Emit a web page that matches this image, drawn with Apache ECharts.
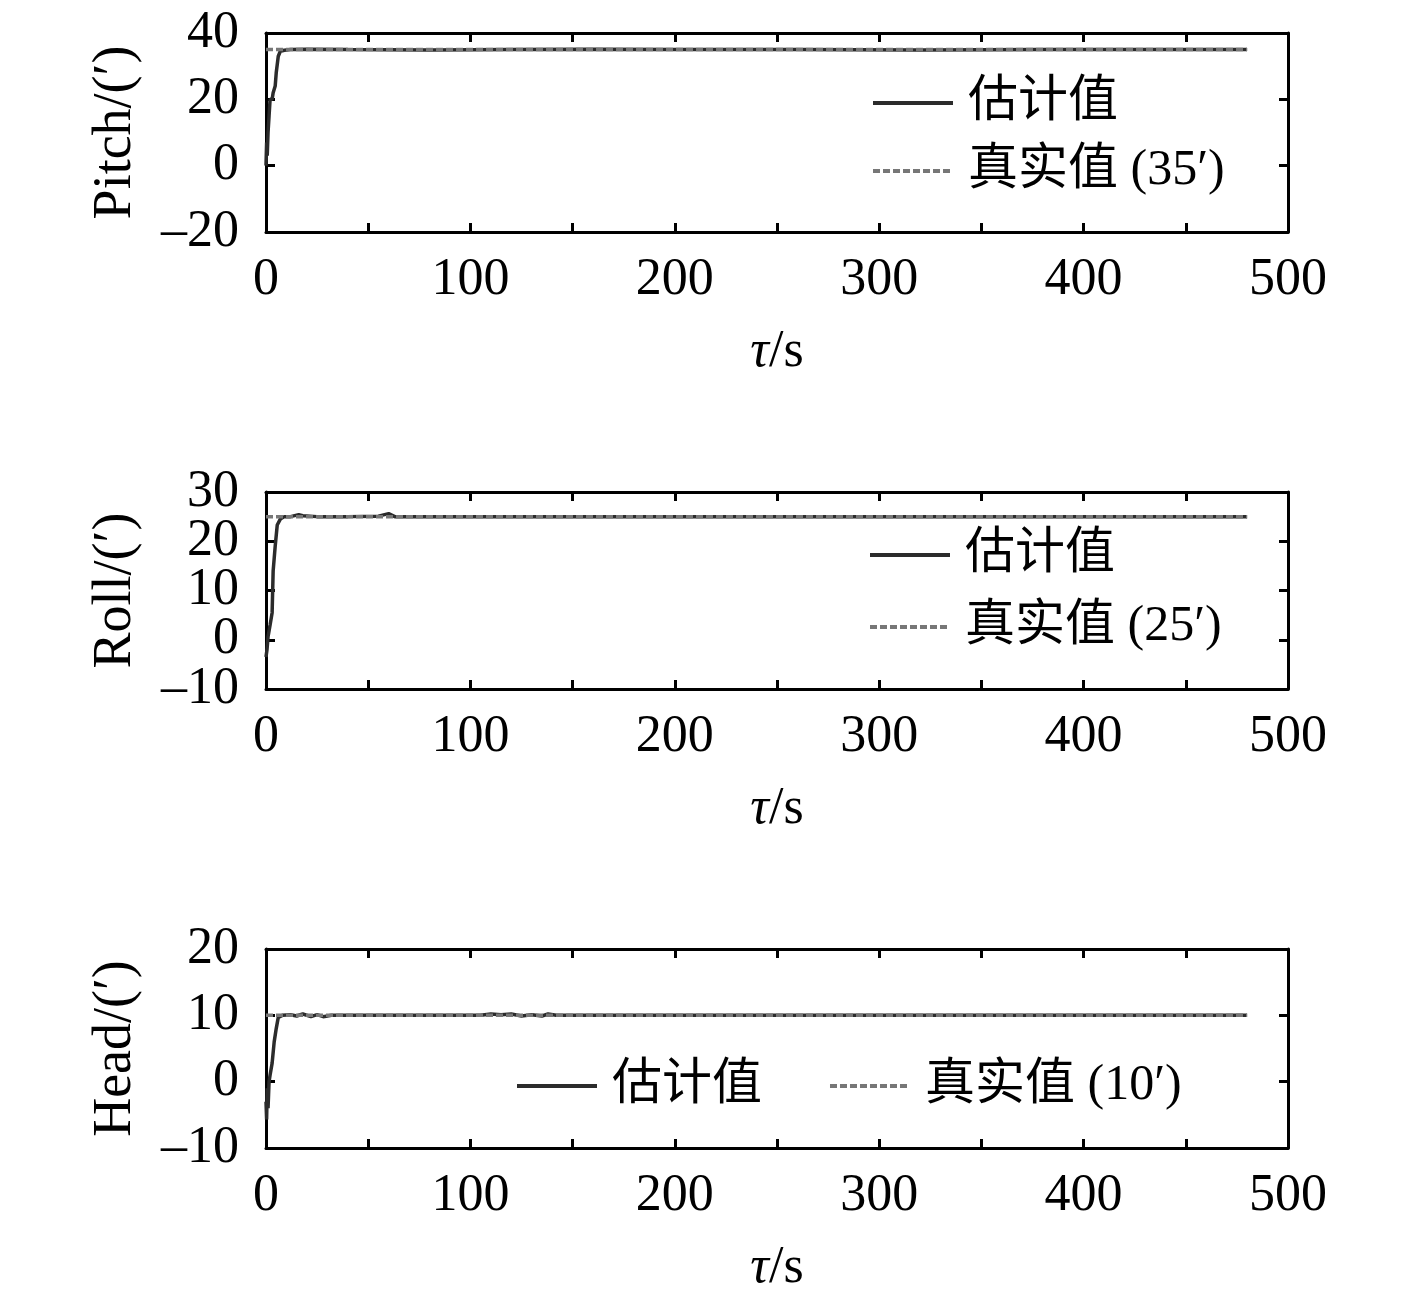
<!DOCTYPE html>
<html>
<head>
<meta charset="utf-8">
<script src="https://cdn.jsdelivr.net/npm/echarts@6/dist/echarts.min.js"></script>
<style>
  html, body { margin: 0; padding: 0; background: #fff; }
  #chart { width: 1417px; height: 1303px; }
</style>
</head>
<body>
<div id="chart"></div>
<script>
// 时间轴 (s)
var xRange = [0, 500, 50]

// Pitch 估计值
var pitchT = [0, 0.3, 0.6, 1, 1.5, 2, 3, 3.5, 4.5, 5, 6, 7, 9, 12, 20, 40, 80, 120, 160, 200, 260, 320, 380, 440, 480]
var pitchEst = [0, 7, 3, 10, 15, 20, 20, 22, 24, 28, 33, 34.5, 34.8, 35, 35.1, 35, 34.9, 35, 35.1, 35, 35, 34.9, 35, 35, 35]
var pitchTrue = 35
var pitchTicks = [-20, 0, 20, 40]

// Roll 估计值
var rollT = [0, 0.5, 1, 2, 3, 3.5, 4.5, 5.5, 7, 9, 12, 16, 18, 25, 40, 55, 60, 63, 80, 120, 200, 300, 400, 480]
var rollEst = [-3.5, -2, 0.6, 3, 5.5, 14, 19, 23.3, 24.5, 25, 25, 25.4, 25.2, 25, 25, 25.1, 25.6, 25, 25, 25, 25, 25, 25, 25]
var rollTrue = 25
var rollTicks = [-10, 0, 10, 20, 30]

// Head 估计值
var headT = [0, 0.3, 0.6, 1, 1.5, 2, 3, 4, 5, 6, 8, 12, 15, 18, 22, 25, 28, 32, 60, 105, 110, 115, 120, 125, 130, 135, 138, 142, 200, 300, 400, 480]
var headEst = [-3, -5.7, -1, -4, 0, 1, 2.8, 6, 8, 9.7, 10, 10.1, 9.9, 10.2, 9.8, 10.1, 9.8, 10, 10, 10, 10.2, 10.1, 10.2, 9.9, 10.1, 9.9, 10.2, 10, 10, 10, 10, 10]
var headTrue = 10
var headTicks = [-10, 0, 10, 20]

var tEnd = 480
var serif = '"Liberation Serif", "Noto Sans CJK SC", serif'

var panels = [
  { name: 'Pitch/(′)', t: pitchT, est: pitchEst, truth: pitchTrue, ticks: pitchTicks, top: 33, height: 199 },
  { name: 'Roll/(′)', t: rollT, est: rollEst, truth: rollTrue, ticks: rollTicks, top: 492, height: 197 },
  { name: 'Head/(′)', t: headT, est: headEst, truth: headTrue, ticks: headTicks, top: 949, height: 199 }
]

function yFmt (v) { return v < 0 ? '–' + Math.abs(v) : String(v) }

var grids = [], xAxes = [], yAxes = [], series = []

panels.forEach(function (p, i) {
  var yMin = p.ticks[0], yMax = p.ticks[p.ticks.length - 1], yStep = p.ticks[1] - p.ticks[0]
  // 标签分两组放在两个重叠的左轴上，避免被自动隐藏
  var evenTicks = p.ticks.filter(function (v, k) { return k % 2 === 0 })
  var oddTicks = p.ticks.filter(function (v, k) { return k % 2 === 1 })
  grids.push({ left: 266, width: 1022, top: p.top, height: p.height, show: false })
  var axisLine = { show: true, onZero: false, lineStyle: { color: '#000', width: 3 } }
  var tick = { show: true, inside: true, length: 9, lineStyle: { color: '#000', width: 3 } }
  var yLabel = { color: '#000', fontFamily: serif, fontSize: 52, margin: 27, showMinLabel: true, showMaxLabel: true, hideOverlap: false, formatter: yFmt }
  xAxes.push({
    gridIndex: i, type: 'value', position: 'bottom',
    min: xRange[0], max: xRange[1], interval: xRange[2],
    axisLine: axisLine, axisTick: tick,
    splitLine: { show: false },
    axisLabel: {
      color: '#000', fontFamily: serif, fontSize: 52, margin: 22,
      showMinLabel: true, showMaxLabel: true, hideOverlap: false,
      formatter: function (v) { return v % 100 === 0 ? String(v) : '' }
    },
    name: '{i|τ}/s', nameLocation: 'middle', nameGap: 94,
    nameTextStyle: {
      color: '#000', fontFamily: serif, fontSize: 52,
      rich: { i: { fontStyle: 'italic', fontFamily: serif, fontSize: 52, color: '#000' } }
    }
  })
  xAxes.push({
    gridIndex: i, type: 'value', position: 'top',
    min: xRange[0], max: xRange[1], interval: xRange[2],
    axisLine: axisLine, axisTick: tick,
    axisLabel: { show: false }, splitLine: { show: false }
  })
  yAxes.push({
    gridIndex: i, type: 'value', position: 'left',
    min: yMin, max: yMax, interval: yStep,
    axisLine: axisLine, axisTick: tick, splitLine: { show: false },
    axisLabel: Object.assign({ customValues: evenTicks }, yLabel),
    name: p.name, nameLocation: 'middle', nameGap: 123,
    nameTextStyle: { color: '#000', fontFamily: serif, fontSize: 54 }
  })
  yAxes.push({
    gridIndex: i, type: 'value', position: 'right',
    min: yMin, max: yMax, interval: yStep,
    axisLine: axisLine, axisTick: tick,
    axisLabel: { show: false }, splitLine: { show: false }
  })
  yAxes.push({
    gridIndex: i, type: 'value', position: 'left',
    min: yMin, max: yMax, interval: yStep,
    axisLine: { show: false, onZero: false }, axisTick: { show: false }, splitLine: { show: false },
    axisLabel: Object.assign({ customValues: oddTicks }, yLabel)
  })
  series.push({
    name: '估计值', type: 'line', xAxisIndex: i * 2, yAxisIndex: i * 3,
    showSymbol: false, symbol: 'none', animation: false,
    lineStyle: { color: '#2b2b2b', width: 3.5 },
    itemStyle: { color: '#2b2b2b' },
    data: p.t.map(function (t, k) { return [t, p.est[k]] })
  })
  series.push({
    name: '真实值 (' + p.truth + '′)', type: 'line', xAxisIndex: i * 2, yAxisIndex: i * 3,
    showSymbol: false, symbol: 'none', animation: false,
    lineStyle: { color: '#777', width: 3.5, type: [7, 3] },
    itemStyle: { color: '#777' },
    data: [[0, p.truth], [tEnd, p.truth]]
  })
})

var legendText = { color: '#000', fontFamily: serif, fontSize: 50, lineHeight: 56, padding: [0, 0, 0, 10] }
var legendCommon = {
  itemWidth: 80, itemHeight: 14, textStyle: legendText, selectedMode: false,
  itemStyle: { opacity: 0 }, lineStyle: { width: 4 }
}

var option = {
  animation: false,
  backgroundColor: '#fff',
  grid: grids,
  xAxis: xAxes,
  yAxis: yAxes,
  legend: [
    Object.assign({ data: ['估计值', '真实值 (35′)'], orient: 'vertical', left: 866, top: 70, itemGap: 12 }, legendCommon),
    Object.assign({ data: ['估计值', '真实值 (25′)'], orient: 'vertical', left: 863, top: 522, itemGap: 16 }, legendCommon),
    Object.assign({ data: ['估计值', '真实值 (10′)'], orient: 'horizontal', left: 510, top: 1053, itemGap: 66 }, legendCommon)
  ],
  series: series
}

var myChart = echarts.init(document.getElementById('chart'))
myChart.setOption(option)
</script>
</body>
</html>
